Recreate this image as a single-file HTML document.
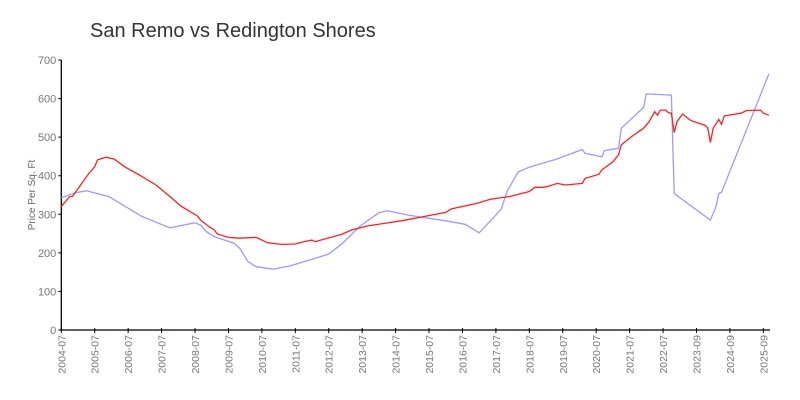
<!DOCTYPE html>
<html><head><meta charset="utf-8"><style>
body{margin:0;background:#fff;}
svg{display:block;font-family:"Liberation Sans",sans-serif;}
</style></head><body>
<svg id="chart" width="800" height="400">
<text x="90" y="37" font-size="20" fill="#333">San Remo vs Redington Shores</text>
<text transform="translate(35,195) rotate(-90)" text-anchor="middle" font-size="10" fill="#666">Price Per Sq. Ft</text>
<g id="axes"></g>
<g id="series"></g>
</svg>
<script>
const xTickLabels=["2004-07","2005-07","2006-07","2007-07","2008-07","2009-07","2010-07","2011-07","2012-07","2013-07","2014-07","2015-07","2016-07","2017-07","2018-07","2019-07","2020-07","2021-07","2022-07","2023-09","2024-09","2025-09"];
const yTicks=[0,100,200,300,400,500,600,700];
const sanRemoMonths=[0,3,4,10,12,13,16,19,23,28,34,39,43,49,50,53,55,56,60,64,70,74,79,84,87,90,91,101,104,110,122,130,138,140,149,154,161,168,170,173,175,178,181,187,188,193,194,198,200,201,205,208,209,211,213,214,215,217,218,219,220,221,223,226,231,232,233,234,236,237,238,244,246,251,252,254];
const sanRemoValues=[320,346,346,407,423,441,448,443,422,402,376,346,321,295,285,268,259,249,240,238,240,226,222,223,229,233,229,249,259,270,283,294,305,314,328,339,346,359,370,370,373,380,376,380,393,404,415,436,454,480,503,518,523,540,566,557,570,570,563,562,512,540,560,543,531,525,486,523,546,533,555,562,569,570,562,557];
const redingtonMonths=[0,5,9,17,29,39,48,50,52,55,62,64,67,70,76,82,87,90,96,101,107,114,117,125,138,145,150,156,158,160,164,168,175,177,187,188,194,195,200,201,209,210,219,220,233,235,236,237,254];
const redingtonValues=[343,356,361,346,294,265,278,272,255,242,225,212,177,164,158,166,177,183,197,225,268,304,309,297,283,274,252,298,315,359,410,422,437,441,468,458,449,465,471,523,577,612,609,354,285,320,354,357,664];
const NS="http://www.w3.org/2000/svg";
const X0=61.3, STEP=33.43/12, Y0=330, YS=270/700;
function xs(m){return X0+m*STEP;}
function ys(v){return Y0-v*YS;}
function mk(tag,attrs,parent){const e=document.createElementNS(NS,tag);for(const k in attrs)e.setAttribute(k,attrs[k]);parent.appendChild(e);return e;}
const ax=document.getElementById('axes');
const yl=mk('line',{x1:X0,y1:60,x2:X0,y2:Y0,stroke:'#000','stroke-width':1.3},ax);


const xl=mk('line',{x1:X0,y1:Y0,x2:770,y2:Y0,stroke:'#000','stroke-width':1.3},ax);


for(let m=0;m<=254;m++){mk('line',{x1:xs(m),y1:Y0+0.7,x2:xs(m),y2:Y0+1.5,stroke:'#ccc','stroke-width':0.5},ax);}
yTicks.forEach(v=>{
  mk('line',{x1:X0-3,y1:ys(v),x2:X0,y2:ys(v),stroke:'#000'},ax);
  const t=mk('text',{x:X0-5,y:ys(v)+4,'text-anchor':'end','font-size':11,fill:'#777'},ax);
  t.textContent=v;
  
  
});
xTickLabels.forEach((lab,i)=>{
  const x=xs(i*12);
  mk('line',{x1:x,y1:Y0-2,x2:x,y2:Y0+3,stroke:'#000'},ax);
  const t=mk('text',{transform:`translate(${x+4},${Y0+5}) rotate(-90)`,'text-anchor':'end','font-size':10.5,fill:'#777'},ax);
  t.textContent=lab;
  
  
});
const sg=document.getElementById('series');
function line(ms,vs,color,name){
  const d=ms.map((m,i)=>(i?'L':'M')+xs(m).toFixed(1)+','+ys(vs[i]).toFixed(1)).join('');
  const p=mk('path',{d:d,fill:'none',stroke:color,'stroke-width':1.3},sg);
  
  
}
line(redingtonMonths,redingtonValues,'#9a9aff','redington-shores-line');
line(sanRemoMonths,sanRemoValues,'#ff2020','san-remo-line');
</script>
</body></html>
